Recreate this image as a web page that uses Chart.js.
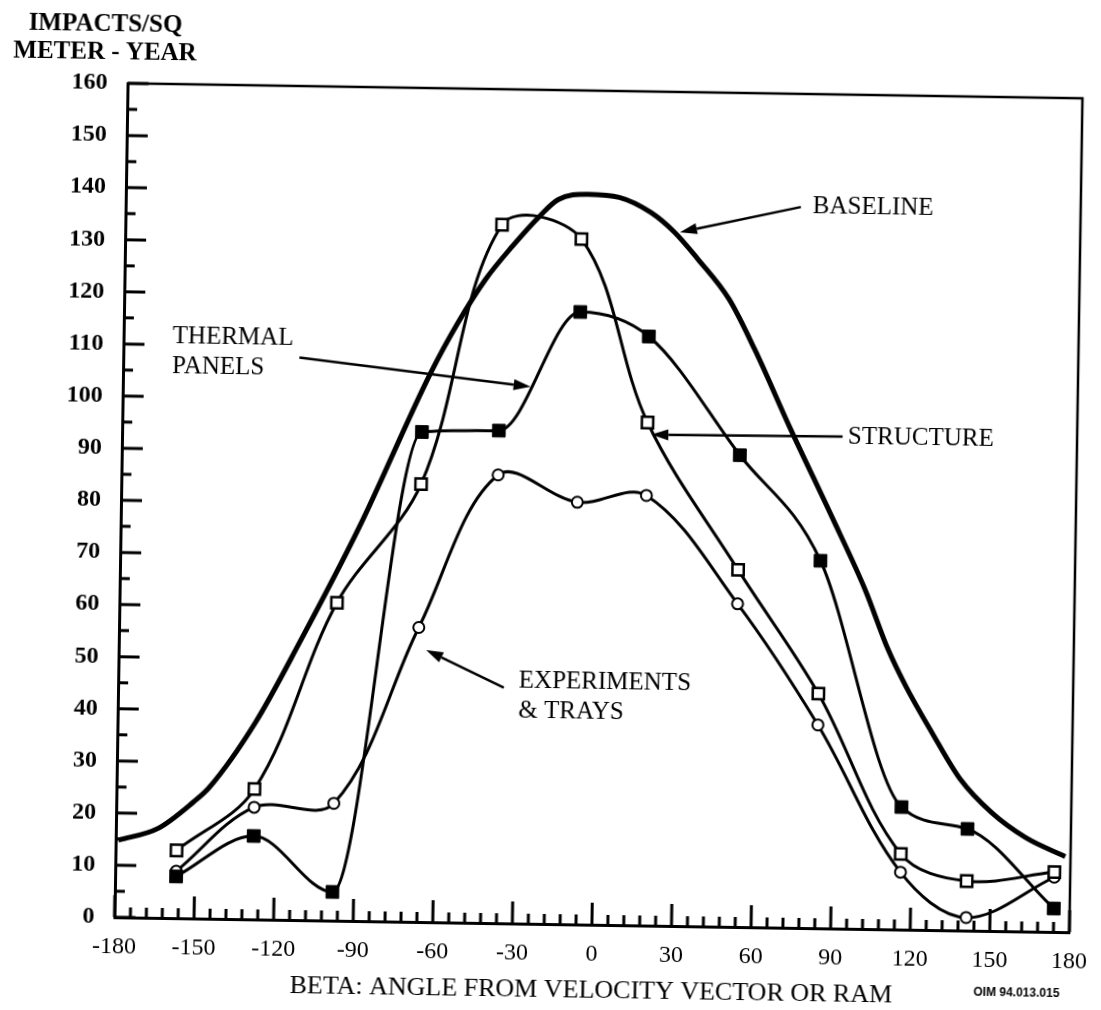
<!DOCTYPE html>
<html>
<head>
<meta charset="utf-8">
<script src="https://cdn.jsdelivr.net/npm/chart.js@4.4.1/dist/chart.umd.min.js"></script>
<style>
  html, body { margin: 0; padding: 0; background: #fff; overflow: hidden; }
  #wrap { width: 1101px; height: 1010px; }
  canvas { display: block; transform: rotate(0.9deg); transform-origin: 550px 505px; }
</style>
</head>
<body>
<div id="wrap"><canvas id="c" width="1101" height="1010"></canvas></div>
<script>
// Beta angle of each tray row (degrees from the velocity vector)
const rowBeta = [-157, -128, -98, -67, -38, -8, 18, 53, 84, 116, 141, 174];

// Impacts per square metre per year for each surface class
const structureImpacts  = [8, 16, 5.5, 94, 94.5, 117.5, 113, 90.5, 70.5, 23.5, 19.5, 4.5];
const thermalImpacts    = [13, 25, 61, 84, 134, 131.5, 96.5, 68.5, 45, 14.5, 9.5, 11.5];
const experimentImpacts = [9, 21.5, 22.5, 56.5, 86, 81, 82.5, 62, 39, 11, 2.5, 10.5];

// Baseline model curve
const baselineBeta    = [-179, -164, -151, -145, -128, -112, -90, -64, -54, -44, -34, -24, -17, -6, 6, 18, 27, 36, 48, 58, 72, 88, 101, 110, 117, 127, 138, 150, 163, 178];
const baselineImpacts = [14.8, 17.2, 22.3, 25.2, 37.8, 53.1, 75.6, 105.4, 115.1, 123.4, 129.9, 135.7, 139, 140.1, 139.6, 136.8, 133.1, 128, 120.4, 110.8, 95.6, 79, 65.1, 53.7, 46.6, 37.9, 29, 22.7, 18, 14.5];

// Axis tick labels
const xTickValues = [-180, -150, -120, -90, -60, -30, 0, 30, 60, 90, 120, 150, 180];
const yTickValues = [0, 10, 20, 30, 40, 50, 60, 70, 80, 90, 100, 110, 120, 130, 140, 150, 160];

// Callout labels: text anchor, arrow tail and arrow tip, all in (beta, impacts)
const callouts = [
  { lines: ['BASELINE'],               at: [79, 138.5],    from: [74.5, 138.3],  to: [29.1, 133.1] },
  { lines: ['THERMAL', 'PANELS'],      at: [-161.5, 111.5], from: [-113.6, 107.9], to: [-26.3, 103.0] },
  { lines: ['STRUCTURE'],              at: [93.6, 94.4],   from: [91.6, 94.4],   to: [19.5, 94.2] },
  { lines: ['EXPERIMENTS', '& TRAYS'], at: [-29, 46.6],    from: [-34.6, 45.2],  to: [-64.1, 52.2] }
];

const SERIF = "'Liberation Serif', 'Times New Roman', serif";
const pts = (xs, ys) => xs.map((b, i) => ({ x: b, y: ys[i] }));

// Box frame plus inward-pointing major/minor ticks
const frameAndTicks = {
  id: 'frameAndTicks',
  beforeDatasetsDraw(chart) {
    const { ctx, chartArea: a, scales: { x, y } } = chart;
    ctx.save();
    ctx.strokeStyle = '#000';
    ctx.lineWidth = 3;
    ctx.beginPath();
    for (let v = 0; v <= 160; v += 5) {
      const py = y.getPixelForValue(v);
      const len = v % 10 === 0 ? 21 : 10;
      ctx.moveTo(a.left, py);
      ctx.lineTo(a.left + len, py);
    }
    for (let d = -180; d <= 180; d += 6) {
      const px = x.getPixelForValue(d);
      const len = d % 30 === 0 ? 22 : 10;
      ctx.moveTo(px, a.bottom);
      ctx.lineTo(px, a.bottom - len);
    }
    ctx.stroke();
    ctx.lineWidth = 2.5;
    ctx.beginPath();
    ctx.moveTo(a.left, a.top);
    ctx.lineTo(a.right, a.top);
    ctx.lineTo(a.right, a.bottom);
    ctx.stroke();
    ctx.restore();
  }
};

// Callout text with arrows, plus the y-axis heading and figure id
const labelsPlugin = {
  id: 'labelsPlugin',
  afterDatasetsDraw(chart) {
    const { ctx, scales: { x, y } } = chart;
    const P = (p) => [x.getPixelForValue(p[0]), y.getPixelForValue(p[1])];
    ctx.save();
    ctx.fillStyle = '#000';
    ctx.strokeStyle = '#000';
    ctx.font = '25px ' + SERIF;
    ctx.textAlign = 'left';
    ctx.textBaseline = 'middle';
    callouts.forEach(c => {
      const [tx, ty] = P(c.at);
      c.lines.forEach((ln, i) => ctx.fillText(ln, tx, ty + i * 30));
      const [x1, y1] = P(c.from);
      const [x2, y2] = P(c.to);
      const ang = Math.atan2(y2 - y1, x2 - x1);
      const hl = 17, hw = 5.5;
      const bx = x2 - hl * Math.cos(ang), by = y2 - hl * Math.sin(ang);
      ctx.lineWidth = 2.5;
      ctx.beginPath();
      ctx.moveTo(x1, y1);
      ctx.lineTo(bx, by);
      ctx.stroke();
      ctx.beginPath();
      ctx.moveTo(x2, y2);
      ctx.lineTo(bx + hw * Math.sin(ang), by - hw * Math.cos(ang));
      ctx.lineTo(bx - hw * Math.sin(ang), by + hw * Math.cos(ang));
      ctx.closePath();
      ctx.fill();
    });

    ctx.font = 'bold 25px ' + SERIF;
    ctx.textAlign = 'center';
    ctx.fillText('IMPACTS/SQ', 98, 32);
    ctx.fillText('METER - YEAR', 98, 60);

    ctx.font = 'bold 12px "Liberation Sans", Arial, sans-serif';
    ctx.textAlign = 'left';
    ctx.fillText('OIM 94.013.015', 981, 986);
    ctx.restore();
  }
};

new Chart(document.getElementById('c'), {
  type: 'line',
  data: {
    datasets: [
      {
        label: 'Structure',
        data: pts(rowBeta, structureImpacts),
        borderColor: '#000', borderWidth: 3,
        pointStyle: 'rect', pointRadius: 9,
        pointBackgroundColor: '#000', pointBorderColor: '#000', pointBorderWidth: 1,
        cubicInterpolationMode: 'monotone', fill: false
      },
      {
        label: 'Thermal panels',
        data: pts(rowBeta, thermalImpacts),
        borderColor: '#000', borderWidth: 3,
        pointStyle: 'rect', pointRadius: 8,
        pointBackgroundColor: '#fff', pointBorderColor: '#000', pointBorderWidth: 2.5,
        tension: 0.35, fill: false
      },
      {
        label: 'Experiments & trays',
        data: pts(rowBeta, experimentImpacts),
        borderColor: '#000', borderWidth: 3,
        pointStyle: 'circle', pointRadius: 5.5,
        pointBackgroundColor: '#fff', pointBorderColor: '#000', pointBorderWidth: 2,
        tension: 0.35, fill: false
      },
      {
        label: 'Baseline',
        data: pts(baselineBeta, baselineImpacts),
        borderColor: '#000', borderWidth: 5,
        pointRadius: 0,
        cubicInterpolationMode: 'monotone', fill: false
      }
    ]
  },
  options: {
    responsive: false,
    animation: false,
    devicePixelRatio: 1,
    layout: { padding: { top: 90, right: 22, left: 0, bottom: 0 } },
    plugins: { legend: { display: false }, tooltip: { enabled: false } },
    scales: {
      x: {
        type: 'linear', min: -180, max: 180,
        afterFit(s) { s.height = 86; },
        afterBuildTicks(s) { s.ticks = xTickValues.map(v => ({ value: v })); },
        grid: { display: false },
        border: { display: true, width: 3, color: '#000' },
        ticks: { color: '#000', font: { family: SERIF, size: 24 }, padding: 7, maxRotation: 0, autoSkip: false },
        title: {
          display: true, text: 'BETA: ANGLE FROM VELOCITY VECTOR OR RAM', color: '#000',
          font: { family: SERIF, size: 26 }, padding: { top: 0, bottom: 4 }
        }
      },
      y: {
        type: 'linear', min: 0, max: 160,
        afterFit(s) { s.width = 121; },
        afterBuildTicks(s) { s.ticks = yTickValues.map(v => ({ value: v })); },
        grid: { display: false },
        border: { display: true, width: 3, color: '#000' },
        ticks: { color: '#000', font: { family: SERIF, size: 24, weight: 'bold' }, padding: 12, autoSkip: false }
      }
    }
  },
  plugins: [frameAndTicks, labelsPlugin]
});
</script>
</body>
</html>
